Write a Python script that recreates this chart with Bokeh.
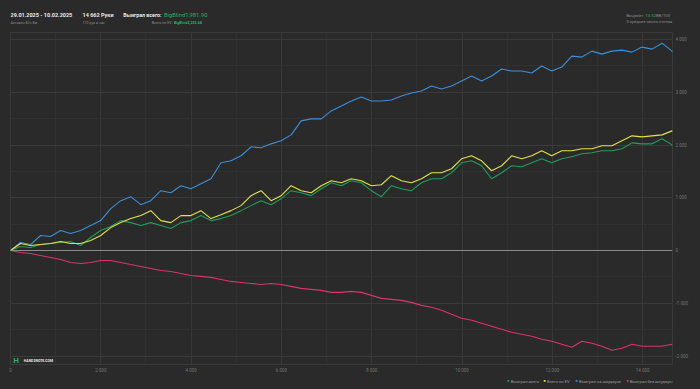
from bokeh.plotting import figure
from bokeh.layouts import column
from bokeh.models import (Range1d, FixedTicker, CustomJSTickFormatter, Label, Span,
                          ColumnDataSource)
from bokeh.embed import file_html
from bokeh.resources import INLINE

# ---------------- data ----------------
hands = [0, 222, 444, 666, 888, 1110, 1332, 1554, 1776, 1998,
         2220, 2442, 2664, 2886, 3108, 3330, 3552, 3774, 3996, 4218,
         4440, 4662, 4884, 5106, 5328, 5550, 5772, 5994, 6216, 6438,
         6660, 6882, 7104, 7326, 7548, 7770, 7992, 8214, 8436, 8658,
         8880, 9102, 9324, 9546, 9768, 9990, 10212, 10434, 10656, 10878,
         11100, 11322, 11544, 11766, 11988, 12210, 12432, 12654, 12876, 13098,
         13320, 13542, 13764, 13986, 14208, 14430, 14652, 14662]

won_total = [0, 76, 57, 113, 132, 151, 170, 95, 246, 378,
             454, 567, 529, 473, 529, 473, 416, 529, 567, 662,
             567, 605, 662, 756, 851, 945, 869, 983, 1134, 1096,
             1040, 1172, 1285, 1229, 1323, 1285, 1134, 1021, 1229, 1172,
             1134, 1285, 1361, 1361, 1474, 1663, 1701, 1607, 1361, 1474,
             1607, 1588, 1663, 1739, 1663, 1739, 1777, 1833, 1852, 1890,
             1890, 1928, 2041, 2022, 2022, 2117, 2003, 1982]

ev_total = [0, 132, 95, 113, 132, 170, 132, 132, 189, 284,
            435, 529, 605, 662, 756, 567, 529, 662, 662, 756,
            605, 680, 756, 851, 1040, 1134, 945, 1040, 1229, 1134,
            1096, 1229, 1323, 1285, 1361, 1323, 1229, 1247, 1418, 1323,
            1285, 1361, 1474, 1474, 1550, 1739, 1796, 1701, 1512, 1607,
            1796, 1739, 1796, 1890, 1796, 1890, 1890, 1928, 1928, 1985,
            1985, 2079, 2174, 2155, 2174, 2192, 2268, 2256]

won_showdown = [0, 151, 113, 284, 265, 378, 321, 378, 473, 567,
                794, 945, 1021, 869, 945, 1134, 1096, 1229, 1172, 1266,
                1361, 1663, 1701, 1796, 1966, 1947, 2022, 2079, 2192, 2457,
                2495, 2495, 2646, 2741, 2835, 2911, 2835, 2835, 2854, 2930,
                2986, 3024, 3119, 3062, 3119, 3213, 3308, 3213, 3308, 3440,
                3402, 3402, 3364, 3497, 3402, 3478, 3686, 3667, 3780, 3723,
                3780, 3799, 3761, 3856, 3818, 3931, 3780, 3761]

won_no_showdown = [0, -38, -57, -95, -132, -170, -227, -246, -227, -189,
                   -189, -227, -265, -302, -340, -378, -397, -435, -473, -491,
                   -510, -548, -586, -605, -624, -643, -624, -643, -680, -718,
                   -737, -756, -794, -794, -775, -794, -851, -907, -926, -945,
                   -983, -1040, -1077, -1134, -1210, -1285, -1323, -1380, -1436, -1493,
                   -1550, -1588, -1625, -1682, -1720, -1777, -1833, -1720, -1758, -1814,
                   -1890, -1852, -1777, -1814, -1814, -1814, -1777, -1779]

series_names = ["Выиграл всего", "Всего по EV", "Выиграл на шоудауне", "Выиграл без шоудауна"]
series_colors = ["#1f9e5c", "#e3e34b", "#3b8fdc", "#d9346c"]

x_ticks = [0, 2000, 4000, 6000, 8000, 10000, 12000, 14000]
x_minor = [1000, 3000, 5000, 7000, 9000, 11000, 13000]
y_ticks = [-2000, -1000, 0, 1000, 2000, 3000, 4000]
y_minor = [-1500, -500, 500, 1500, 2500, 3500]

BG = "#2a2a2a"
FONT = "Roboto"
WHITE = "#e8e8e8"
GREY = "#8a8a8a"
GREEN = "#24b561"

# The column aligns all frames to the main chart's frame (page x 10..672),
# so the strips use a matching x range: their data x equals the page x.
def strip(height):
    f = figure(width=700, height=height, output_backend="svg", toolbar_location=None,
               x_range=Range1d(10, 672), y_range=Range1d(0, height),
               background_fill_color=BG, border_fill_color=BG,
               min_border=0, outline_line_color=None)
    f.axis.visible = False
    f.grid.visible = False
    return f


def lab(fig, text, x, y, size, color, style="normal", align="left"):
    fig.add_layout(Label(x=x, y=y, text=text,
                         text_font=FONT, text_font_size=size, text_color=color,
                         text_font_style=style, text_align=align, text_baseline="middle"))


# ---------------- header strip ----------------
head = strip(32)
lab(head, "29.01.2025 - 10.02.2025", 10, 17.3, "5.5px", WHITE, "bold")
lab(head, "Активен 82ч 8м", 10, 9.3, "3.6px", GREY)
lab(head, "14 662 Руки", 82, 17.3, "5.5px", WHITE, "bold")
lab(head, "170 рук в час", 82, 9.3, "3.6px", GREY)
lab(head, "Выиграл всего:", 122.7, 17.3, "5.3px", WHITE, "bold")
lab(head, "BigBlind1,981.90", 163.5, 17.3, "5.8px", GREEN)
lab(head, "Всего по EV:", 172, 9.3, "3.6px", GREY, align="right")
lab(head, "BigBlind2,255.68", 173.5, 9.3, "3.6px", GREEN, "bold")
lab(head, "Винрейт:", 626, 17.3, "4.2px", GREY)
lab(head, "13.52", 645, 17.3, "4.2px", GREEN)
lab(head, "BB/100", 655.5, 17.3, "4.2px", GREY)
lab(head, "3 среднее число столов", 626, 11.3, "4.1px", GREY)

# ---------------- main chart ----------------
p = figure(frame_width=662, frame_height=332, output_backend="svg", toolbar_location=None,
           x_range=Range1d(0, 14662), y_range=Range1d(-2161, 4133),
           y_axis_location="right",
           background_fill_color=BG, border_fill_color=BG,
           min_border_left=10, min_border_right=28, min_border_top=0, min_border_bottom=10)
p.outline_line_color = "#3a3a3a"

fmt = CustomJSTickFormatter(code=r"return tick.toString().replace(/\B(?=(\d{3})+(?!\d))/g, ' ');")

for ax in (p.xaxis[0], p.yaxis[0]):
    ax.axis_line_color = None
    ax.major_tick_line_color = None
    ax.minor_tick_line_color = None
    ax.major_tick_out = 0
    ax.minor_tick_out = 0
    ax.major_label_text_font = FONT
    ax.major_label_text_font_size = "4.5px"
    ax.major_label_text_color = "#747474"
    ax.formatter = fmt
p.xaxis[0].ticker = FixedTicker(ticks=x_ticks, minor_ticks=x_minor)
p.yaxis[0].ticker = FixedTicker(ticks=y_ticks, minor_ticks=y_minor)
p.xaxis[0].major_label_standoff = 3
p.yaxis[0].major_label_standoff = 3

p.xgrid.grid_line_color = "#383838"
p.xgrid.minor_grid_line_color = "#303030"
p.ygrid.grid_line_color = "#3a3a3a"
p.ygrid.minor_grid_line_color = "#313131"

p.add_layout(Span(location=0, dimension="width", line_color="#8a8a8a", line_width=1))

src = ColumnDataSource(dict(x=hands, a=won_total, b=ev_total, c=won_showdown, d=won_no_showdown))
for col, i in zip(["d", "c", "a", "b"], [3, 2, 0, 1]):
    p.line("x", col, source=src, line_color=series_colors[i], line_width=1.1)

# watermark
for text, x, size, color, style in [("H", 2.7, "8px", GREEN, "bold"),
                                    ("HAND2NOTE.COM", 13.3, "3.5px", WHITE, "bold")]:
    p.add_layout(Label(x=x, y=4, x_units="screen", y_units="screen", text=text,
                       text_font=FONT, text_font_size=size, text_color=color,
                       text_font_style=style, text_baseline="middle"))

# ---------------- legend strip ----------------
lg = strip(15)
legend_x = [507.7, 544.0, 576.0, 626.7]
for i, name in enumerate(series_names):
    lab(lg, "■", legend_x[i], 9.5, "3.5px", series_colors[i], align="center")
    lab(lg, name, legend_x[i] + 2.6, 9.3, "4.1px", "#9a9a9a")

layout = column(head, p, lg, spacing=0, styles={"background-color": BG})
open("out.html", "w").write(file_html(layout, INLINE))
